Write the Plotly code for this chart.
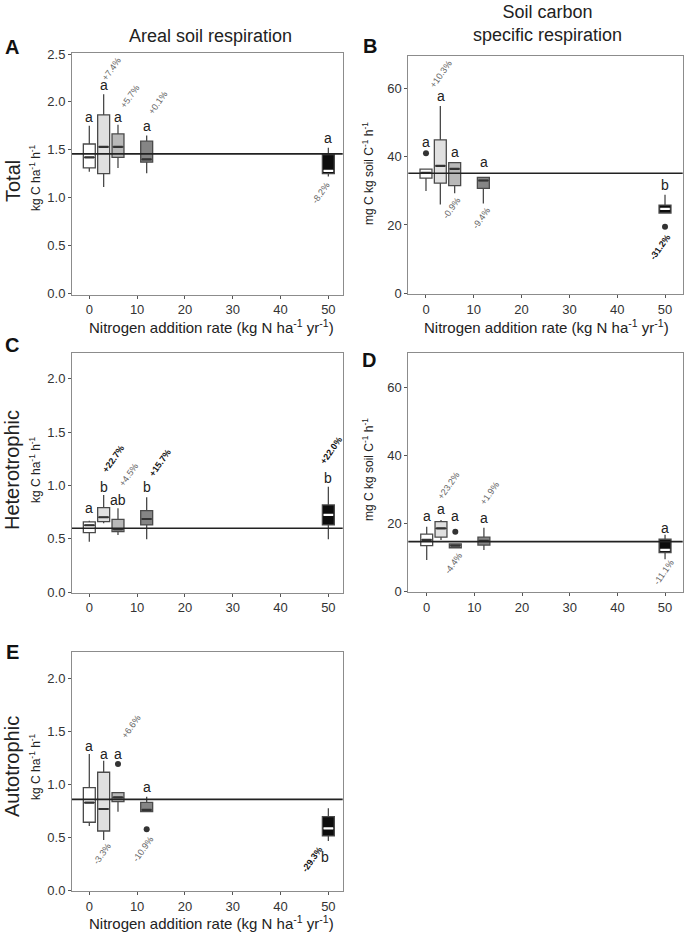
import plotly.graph_objects as go

W, H = 685, 933
FONT = "Liberation Sans, Arial, Helvetica, sans-serif"

# ---------------- data ----------------
N_RATES = [0, 3, 6, 12, 50]
BOX_FILL = ["#ffffff", "#e0e0e0", "#b9b9b9", "#858585", "#0d0d0d"]
MEDIAN_COL = ["#333333", "#333333", "#333333", "#333333", "#ffffff"]

# Panel A: areal total respiration (kg C ha-1 h-1)
A_q1 = [1.31, 1.25, 1.42, 1.37, 1.25]
A_med = [1.42, 1.53, 1.53, 1.40, 1.28]
A_q3 = [1.56, 1.865, 1.665, 1.59, 1.45]
A_lo = [1.27, 1.11, 1.31, 1.255, 1.22]
A_hi = [1.75, 2.08, 1.76, 1.65, 1.52]
A_ref = 1.457
A_out_x, A_out_y = [], []
A_letters = ["a", "a", "a", "a", "a"]
A_letter_x = [0, 3, 6, 12, 50]
A_letter_y = [1.845, 2.18, 1.845, 1.75, 1.62]
A_pct = ["+7.4%", "+5.7%", "+0.1%", "-8.2%"]
A_pct_x = [4.7, 8.6, 14.3, 48.4]
A_pct_y = [2.34, 2.06, 1.99, 1.05]
A_pct_bold = [False, False, False, False]

# Panel B: soil carbon specific total respiration (mg C kg soil C-1 h-1)
B_q1 = [33.7, 32.2, 31.5, 30.7, 23.5]
B_med = [35.2, 37.3, 36.4, 33.0, 24.7]
B_q3 = [36.3, 44.9, 38.2, 33.9, 25.8]
B_lo = [29.9, 26.0, 29.3, 26.3, 23.5]
B_hi = [36.3, 54.8, 38.2, 34.1, 28.8]
B_ref = 35.1
B_out_x, B_out_y = [0, 50], [41.0, 19.5]
B_letters = ["a", "a", "a", "a", "b"]
B_letter_x = [0, 3.2, 6.1, 12.2, 50]
B_letter_y = [44.4, 57.6, 41.2, 38.5, 31.7]
B_pct = ["+10.3%", "-0.9%", "-9.4%", "-31.2%"]
B_pct_x = [3.2, 5.4, 11.65, 49.0]
B_pct_y = [64.0, 24.9, 21.9, 13.5]
B_pct_bold = [False, False, False, True]

# Panel C: areal heterotrophic respiration
C_q1 = [0.559, 0.662, 0.568, 0.631, 0.631]
C_med = [0.628, 0.703, 0.59, 0.687, 0.725]
C_q3 = [0.659, 0.793, 0.684, 0.765, 0.819]
C_lo = [0.474, 0.647, 0.537, 0.497, 0.497]
C_hi = [0.671, 0.912, 0.787, 0.89, 0.99]
C_ref = 0.6
C_out_x, C_out_y = [], []
C_letters = ["a", "b", "ab", "b", "b"]
C_letter_x = [0, 3, 6, 12, 50]
C_letter_y = [0.79, 0.99, 0.865, 0.99, 1.07]
C_pct = ["+22.7%", "+4.5%", "+15.7%", "+22.0%"]
C_pct_x = [5.0, 8.2, 14.8, 50.7]
C_pct_y = [1.25, 1.1, 1.21, 1.33]
C_pct_bold = [True, False, True, True]

# Panel D: soil carbon specific heterotrophic respiration
D_q1 = [13.5, 16.0, 12.9, 13.7, 11.5]
D_med = [15.2, 18.6, 13.5, 14.9, 12.25]
D_q3 = [16.9, 20.6, 14.0, 16.0, 15.4]
D_lo = [9.3, 15.2, 12.7, 12.25, 9.5]
D_hi = [19.1, 21.1, 14.2, 18.8, 16.7]
D_ref = 14.7
D_out_x, D_out_y = [6], [17.6]
D_letters = ["a", "a", "a", "a", "a"]
D_letter_x = [0, 3, 6, 12, 50]
D_letter_y = [22.1, 24.3, 22.1, 21.6, 18.8]
D_pct = ["+23.2%", "-4.4%", "+1.9%", "-11.1%"]
D_pct_x = [4.5, 5.7, 13.3, 49.8]
D_pct_y = [31.2, 8.3, 28.9, 5.7]
D_pct_bold = [False, False, False, False]

# Panel E: areal autotrophic respiration
E_q1 = [0.644, 0.562, 0.838, 0.744, 0.515]
E_med = [0.829, 0.769, 0.879, 0.760, 0.587]
E_q3 = [0.970, 1.115, 0.923, 0.832, 0.697]
E_lo = [0.609, 0.477, 0.744, 0.744, 0.468]
E_hi = [1.287, 1.224, 0.923, 0.885, 0.776]
E_ref = 0.86
E_out_x, E_out_y = [6, 12], [1.193, 0.578]
E_letters = ["a", "a", "a", "a", "b"]
E_letter_x = [0, 3, 6, 12, 49.3]
E_letter_y = [1.36, 1.29, 1.29, 0.98, 0.32]
E_pct = ["+6.6%", "-3.3%", "-10.9%", "-29.3%"]
E_pct_x = [8.65, 2.6, 11.3, 46.7]
E_pct_y = [1.545, 0.35, 0.39, 0.295]
E_pct_bold = [False, False, False, True]

AREAL_TICKS = [0, 0.5, 1.0, 1.5, 2.0, 2.5]
SPEC_TICKS = [0, 20, 40, 60]
X_TICKS = [0, 10, 20, 30, 40, 50]
BOX_W = 2.5

# ---------------- layout geometry (pixels) ----------------
panels = [
    ("A", (A_q1, A_med, A_q3, A_lo, A_hi, A_ref, A_out_x, A_out_y, A_letters, A_letter_x, A_letter_y, A_pct, A_pct_x, A_pct_y, A_pct_bold),
     (72, 342.7, 53, 294.5), [-3.62, 53.0], [-0.0125, 2.511], AREAL_TICKS, ".1f"),
    ("B", (B_q1, B_med, B_q3, B_lo, B_hi, B_ref, B_out_x, B_out_y, B_letters, B_letter_x, B_letter_y, B_pct, B_pct_x, B_pct_y, B_pct_bold),
     (408.3, 682.7, 56, 294.2), [-3.7, 53.7], [-0.25, 69.4], SPEC_TICKS, "d"),
    ("C", (C_q1, C_med, C_q3, C_lo, C_hi, C_ref, C_out_x, C_out_y, C_letters, C_letter_x, C_letter_y, C_pct, C_pct_x, C_pct_y, C_pct_bold),
     (72, 342.7, 353.3, 592.8), [-3.62, 53.0], [-0.005, 2.24], AREAL_TICKS[:-1], ".1f"),
    ("D", (D_q1, D_med, D_q3, D_lo, D_hi, D_ref, D_out_x, D_out_y, D_letters, D_letter_x, D_letter_y, D_pct, D_pct_x, D_pct_y, D_pct_bold),
     (408.3, 682.7, 353.3, 592.3), [-3.86, 53.7], [-0.2, 70.1], SPEC_TICKS, "d"),
    ("E", (E_q1, E_med, E_q3, E_lo, E_hi, E_ref, E_out_x, E_out_y, E_letters, E_letter_x, E_letter_y, E_pct, E_pct_x, E_pct_y, E_pct_bold),
     (72, 342.7, 651.7, 891.2), [-3.62, 53.0], [-0.005, 2.25], AREAL_TICKS[:-1], ".1f"),
]

fig = go.Figure()
layout = dict(
    width=W, height=H, margin=dict(l=0, r=0, t=0, b=0, pad=0, autoexpand=False),
    paper_bgcolor="white", plot_bgcolor="white", showlegend=False,
    font=dict(family=FONT, color="#222"),
)
annotations = []
shapes = []

for i, (name, d, (l, r, t, b), xr, yr, yt, yfmt) in enumerate(panels):
    q1, med, q3, lo, hi, ref, ox, oy, let, lx, ly, pct, px, py, pb = d
    sfx = "" if i == 0 else str(i + 1)
    xa, ya = "x" + sfx, "y" + sfx
    for j, xv in enumerate(N_RATES):
        fig.add_trace(go.Box(
            x=[xv], q1=[q1[j]], median=[med[j]], q3=[q3[j]],
            lowerfence=[lo[j]], upperfence=[hi[j]],
            width=BOX_W, whiskerwidth=0, boxpoints=False,
            fillcolor=BOX_FILL[j], line=dict(color="#4a4a4a", width=1.3),
            xaxis=xa, yaxis=ya, hoverinfo="skip",
        ))
        fig.add_trace(go.Scatter(
            x=[xv - BOX_W / 2 + 0.25, xv + BOX_W / 2 - 0.25], y=[med[j], med[j]],
            mode="lines", line=dict(color=MEDIAN_COL[j], width=2.2),
            xaxis=xa, yaxis=ya, hoverinfo="skip",
        ))
    if ox:
        fig.add_trace(go.Scatter(
            x=ox, y=oy, mode="markers",
            marker=dict(color="#333", size=6),
            xaxis=xa, yaxis=ya, hoverinfo="skip",
        ))
    shapes.append(dict(type="line", xref=xa + " domain", yref=ya,
                       x0=0, x1=1, y0=ref, y1=ref,
                       line=dict(color="#222", width=1.6), layer="above"))
    for s, xv, yv in zip(let, lx, ly):
        annotations.append(dict(x=xv, y=yv, xref=xa, yref=ya, text=s,
                                showarrow=False, font=dict(size=14, color="#222"),
                                xanchor="center", yanchor="middle"))
    for s, xv, yv, bold in zip(pct, px, py, pb):
        annotations.append(dict(x=xv, y=yv, xref=xa, yref=ya,
                                text=f"<b>{s}</b>" if bold else s,
                                textangle=-55, showarrow=False,
                                font=dict(size=9, color="#111" if bold else "#666"),
                                xanchor="center", yanchor="middle"))
    axkey = "xaxis" + sfx
    aykey = "yaxis" + sfx
    layout[axkey] = dict(
        domain=[l / W, r / W], range=xr, anchor=ya, automargin=False,
        tickmode="array", tickvals=X_TICKS,
        ticks="outside", ticklen=3, tickcolor="#555",
        tickfont=dict(size=13, color="#333"),
        showline=True, mirror=True, linecolor="#8c8c8c", linewidth=1,
        showgrid=False, zeroline=False, fixedrange=True,
    )
    layout[aykey] = dict(
        domain=[1 - b / H, 1 - t / H], range=yr, anchor=xa, automargin=False,
        tickmode="array", tickvals=yt, tickformat=yfmt,
        ticks="outside", ticklen=3, tickcolor="#555",
        tickfont=dict(size=13, color="#333"),
        showline=True, mirror=True, linecolor="#8c8c8c", linewidth=1,
        showgrid=False, zeroline=False, fixedrange=True,
    )

# x-axis titles
XTITLE = "Nitrogen addition rate (kg N ha<sup>-1</sup> yr<sup>-1</sup>)"
for xp, yp in [(211, 326), (546, 326), (211, 922)]:
    annotations.append(dict(x=xp / W, y=1 - yp / H, xref="paper", yref="paper",
                            text=XTITLE, showarrow=False,
                            font=dict(size=15, color="#222"),
                            xanchor="center", yanchor="middle"))

# y-axis titles
AREAL_T = "kg C ha<sup>-1</sup> h<sup>-1</sup>"
SPEC_T = "mg C kg soil C<sup>-1</sup> h<sup>-1</sup>"
for txt, xp, yp in [(AREAL_T, 35, 178), (SPEC_T, 368, 174),
                    (AREAL_T, 35, 470), (SPEC_T, 368, 470),
                    (AREAL_T, 35, 767)]:
    annotations.append(dict(x=xp / W, y=1 - yp / H, xref="paper", yref="paper",
                            text=txt, textangle=-90, showarrow=False,
                            font=dict(size=12, color="#222"),
                            xanchor="center", yanchor="middle"))

# row labels
for txt, xp, yp in [("Total", 13, 181), ("Heterotrophic", 12, 470), ("Autotrophic", 12, 767)]:
    annotations.append(dict(x=xp / W, y=1 - yp / H, xref="paper", yref="paper",
                            text=txt, textangle=-90, showarrow=False,
                            font=dict(size=20, color="#222"),
                            xanchor="center", yanchor="middle"))

# column titles
annotations.append(dict(x=210 / W, y=1 - 36 / H, xref="paper", yref="paper",
                        text="Areal soil respiration", showarrow=False,
                        font=dict(size=18, color="#222"), xanchor="center", yanchor="middle"))
annotations.append(dict(x=547 / W, y=1 - 23.5 / H, xref="paper", yref="paper",
                        text="Soil carbon<br>specific respiration", showarrow=False,
                        font=dict(size=18, color="#222"), xanchor="center", yanchor="middle"))

# panel letters
for txt, xp, yp in [("A", 12.5, 47), ("B", 370, 46), ("C", 12, 345), ("D", 369, 360), ("E", 12, 652)]:
    annotations.append(dict(x=xp / W, y=1 - yp / H, xref="paper", yref="paper",
                            text=f"<b>{txt}</b>", showarrow=False,
                            font=dict(size=20, color="#111"),
                            xanchor="center", yanchor="middle"))

layout["annotations"] = annotations
layout["shapes"] = shapes
fig.update_layout(**layout)
fig.write_html(
    "out.html",
    config={"displayModeBar": False},
    post_script="document.body.style.margin='0';document.body.style.padding='0';document.body.style.overflow='hidden';",
)
